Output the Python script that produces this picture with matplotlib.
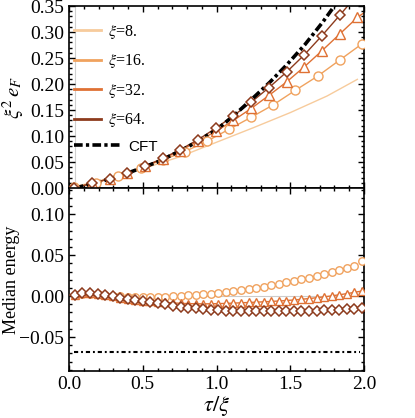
import matplotlib
matplotlib.use("Agg")
import matplotlib.pyplot as plt
from matplotlib.ticker import MultipleLocator
from matplotlib.lines import Line2D

plt.rcParams["font.family"] = ["Liberation Serif", "DejaVu Serif"]
plt.rcParams["mathtext.fontset"] = "stix"

# --- Daten ---
xi_labels = [r"$\xi$=8.", r"$\xi$=16.", r"$\xi$=32.", r"$\xi$=64."]
colors = ["#f7cb9c", "#f0a25e", "#df7134", "#8d3b1d"]

# obere Kurven (Fit-Linien)
x_fit8 = [0.0, 0.25, 0.5, 0.75, 1.0, 1.25, 1.5, 1.75, 1.955]
y_fit8 = [0.0, 0.017, 0.037, 0.060, 0.088, 0.116, 0.145, 0.177, 0.209]

# xi=16, Kreise
x_c = [0.035, 0.185, 0.335, 0.485, 0.635, 0.785, 0.935, 1.085, 1.235,
       1.385, 1.535, 1.685, 1.835, 1.985]
y_c = [0.001, 0.010, 0.023, 0.039, 0.054, 0.070, 0.090, 0.113, 0.136,
       0.160, 0.188, 0.215, 0.246, 0.277]

# xi=32, Dreiecke / xi=64, Rauten (gleiches tau-Raster)
x_t = [0.035, 0.155, 0.275, 0.395, 0.515, 0.635, 0.755, 0.875, 0.995,
       1.115, 1.235, 1.355, 1.475, 1.595, 1.715, 1.835, 1.955]
y_t = [0.0, 0.009, 0.018, 0.029, 0.042, 0.056, 0.072, 0.090, 0.109,
       0.130, 0.153, 0.178, 0.204, 0.233, 0.264, 0.296, 0.328]
x_d = x_t[:16]
y_d = [0.0, 0.009, 0.018, 0.029, 0.042, 0.057, 0.074, 0.093, 0.115,
       0.139, 0.165, 0.193, 0.223, 0.256, 0.293, 0.332]

# Linienenden jenseits der letzten Punkte
x_end = [2.0, 2.0, 1.955]
y_end = [0.280, 0.337, 0.372]

x_cft = [0.04, 0.2, 0.4, 0.6, 0.8, 1.0, 1.12, 1.24, 1.36, 1.48, 1.6, 1.72, 1.83]
y_cft = [0.0, 0.011, 0.029, 0.050, 0.078, 0.112, 0.140, 0.171, 0.203,
         0.238, 0.276, 0.319, 0.362]

# unteres Panel: Median-Energie
x_med = [0.040, 0.091, 0.142, 0.194, 0.245, 0.296, 0.347, 0.398, 0.450, 0.501,
         0.552, 0.603, 0.654, 0.706, 0.757, 0.808, 0.859, 0.910, 0.962, 1.013,
         1.064, 1.115, 1.166, 1.218, 1.269, 1.320, 1.371, 1.422, 1.474, 1.525,
         1.576, 1.627, 1.678, 1.730, 1.781, 1.832, 1.883, 1.934, 1.985]
med16 = [0.0012, 0.0030, 0.0030, 0.0020, 0.0012, 0.0005, 0.0, -0.0005, -0.0008,
         -0.0009, -0.0009, -0.0008, -0.0005, -0.0002, 0.0002, 0.0008, 0.0014,
         0.0021, 0.0028, 0.0036, 0.0046, 0.0057, 0.0070, 0.0085, 0.0101, 0.0117,
         0.0134, 0.0151, 0.0168, 0.0186, 0.0205, 0.0225, 0.0246, 0.0267, 0.0290,
         0.0314, 0.0340, 0.0372, 0.0430]
med32 = [0.0012, 0.0033, 0.0033, 0.0020, 0.0012, 0.0, -0.0018, -0.0033, -0.0045,
         -0.0055, -0.0062, -0.0068, -0.0076, -0.0083, -0.0088, -0.0092, -0.0094,
         -0.0095, -0.0094, -0.0092, -0.0089, -0.0086, -0.0082, -0.0078, -0.0074,
         -0.0070, -0.0065, -0.0060, -0.0054, -0.0047, -0.0039, -0.0030, -0.0020,
         -0.0009, 0.0003, 0.0016, 0.0030, 0.0045, 0.0062]
med64 = [0.0012, 0.0033, 0.0033, 0.0020, 0.0012, 0.0, -0.0020, -0.0037, -0.0049,
         -0.0061, -0.0077, -0.0089, -0.0101, -0.0118, -0.0130, -0.0143, -0.0150,
         -0.0159, -0.0167, -0.0172, -0.0176, -0.0180, -0.0183, -0.0185, -0.0187,
         -0.0188, -0.0188, -0.0188, -0.0187, -0.0185, -0.0183, -0.0180, -0.0177,
         -0.0173, -0.0169, -0.0165, -0.0160, -0.0155, -0.0150]
cft_med = -0.068

fig = plt.figure(figsize=(4.15, 4.18), dpi=100)
ax1 = fig.add_axes([0.1663, 0.5502, 0.7108, 0.4354])
ax2 = fig.add_axes([0.1663, 0.1124, 0.7108, 0.4378])

ax1.axvline(0.04, color="#d0d0d0", lw=0.8, zorder=0)

mk = dict(ms=6.5, mew=1.0, mfc="white")
l8, = ax1.plot(x_fit8, y_fit8, color=colors[0], lw=1.0, label=xi_labels[0])
l16, = ax1.plot(x_c + [x_end[0]], y_c + [y_end[0]], color=colors[1], lw=1.0,
                label=xi_labels[1])
l32, = ax1.plot(x_t + [x_end[1]], y_t + [y_end[1]], color=colors[2], lw=1.0,
                label=xi_labels[2])
l64, = ax1.plot(x_d + [x_end[2]], y_d + [y_end[2]], color=colors[3], lw=1.0,
                label=xi_labels[3])
ax1.plot(x_cft, y_cft, color="black", lw=2.6, dashes=(2.4, 0.9, 0.9, 0.9), zorder=3)
ax1.plot(x_c, y_c, "o", color=colors[1], zorder=4, **mk)
ax1.plot(x_t, y_t, "^", color=colors[2], zorder=4, **mk)
ax1.plot(x_d, y_d, "D", color=colors[3], zorder=5, ms=5.6, mew=1.1, mfc="white")

leg = ax1.legend(handles=[l8, l16, l32, l64], loc="upper left",
                 bbox_to_anchor=(0.0, 0.935), frameon=False, fontsize=11.5,
                 handlelength=1.7, handletextpad=0.45, labelspacing=0.72,
                 borderpad=0, borderaxespad=0.3)
for h in leg.legend_handles:
    h.set_linewidth(2.0)
ax1.add_artist(leg)
cft_h = Line2D([], [], color="black", lw=2.6, dashes=(2.4, 0.9, 0.9, 0.9))
ax1.legend(handles=[cft_h], labels=["CFT"], loc="upper left",
           bbox_to_anchor=(0.0, 0.29), frameon=False, handlelength=3.1,
           handletextpad=0.5, borderpad=0, borderaxespad=0.3,
           prop={"family": "Liberation Sans", "size": 11})

ax1.set_xlim(0, 2)
ax1.set_ylim(0, 0.35)
ax1.yaxis.set_major_locator(MultipleLocator(0.05))
ax1.yaxis.set_minor_locator(MultipleLocator(0.01))
ax1.set_ylabel(r"$\xi^2\,e_F$", fontsize=15)
ax1.yaxis.set_label_coords(-0.145, 0.5)
ax1.tick_params(labelbottom=False)

# unteres Panel
ax2.axhline(0, color="#cccccc", lw=0.8, zorder=0)
ax2.plot([0.035, 1.97], [cft_med, cft_med], color="black", lw=1.5,
         dashes=(2.0, 1.4, 0.9, 1.4))
ax2.plot(x_med, med32, color=colors[2], lw=1.0, zorder=2)
mk2 = dict(ms=5.4, mew=1.0, mfc="white", ls="none")
ax2.plot(x_med, med16, "o", color=colors[1], zorder=3, **mk2)
ax2.plot(x_med, med32, "^", color=colors[2], zorder=4, **mk2)
ax2.plot(x_med, med64, "D", color=colors[3], zorder=5, ms=4.8, mew=1.1,
         mfc="white", ls="none")

ax2.set_xlim(0, 2)
ax2.set_ylim(-0.0915, 0.132)
ax2.yaxis.set_major_locator(MultipleLocator(0.05))
ax2.yaxis.set_minor_locator(MultipleLocator(0.01))
ax2.set_ylabel("Median energy", fontsize=13)
ax2.yaxis.set_label_coords(-0.165, 0.5)
ax2.set_xlabel(r"$\tau/\xi$", fontsize=16, labelpad=1)

for ax in (ax1, ax2):
    ax.xaxis.set_major_locator(MultipleLocator(0.5))
    ax.xaxis.set_minor_locator(MultipleLocator(0.1))
    ax.tick_params(which="both", direction="in", top=True, right=True,
                   labelsize=14, width=1.0)
    ax.tick_params(which="major", length=4.5)
    ax.tick_params(which="minor", length=2.5)
    for s in ax.spines.values():
        s.set_linewidth(1.2)

fig.savefig("out.png", dpi=100)
